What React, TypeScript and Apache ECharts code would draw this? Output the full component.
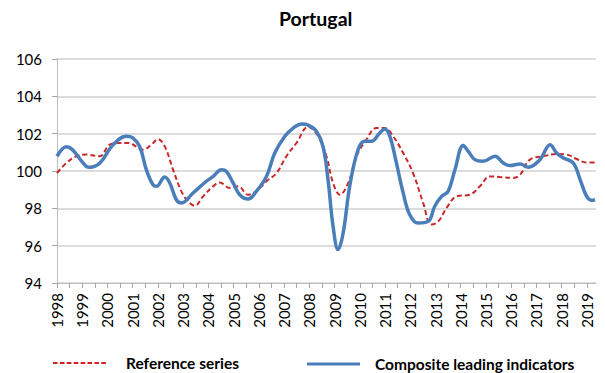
import React, { useEffect, useRef } from "react";
import * as echarts from "echarts";

const title = "Portugal";
const yTicks = { min: 94, max: 106, interval: 2 };

const cliYears = [1998.0, 1998.37, 1999.16, 1999.3, 1999.7, 2000.22, 2000.75, 2001.0, 2001.28, 2001.54, 2001.8, 2001.94, 2002.27, 2002.47, 2002.73, 2002.93, 2003.39, 2003.92, 2004.19, 2004.52, 2004.71, 2004.98, 2005.24, 2005.57, 2005.9, 2006.3, 2006.63, 2007.03, 2007.36, 2007.7, 2007.95, 2008.28, 2008.54, 2008.74, 2008.94, 2009.14, 2009.34, 2009.6, 2009.93, 2010.2, 2010.46, 2010.79, 2010.99, 2011.19, 2011.45, 2011.72, 2011.98, 2012.31, 2012.71, 2012.97, 2013.24, 2013.5, 2013.77, 2014.1, 2014.3, 2014.56, 2014.89, 2015.36, 2015.69, 2015.95, 2016.35, 2016.68, 2017.14, 2017.54, 2017.8, 2018.07, 2018.46, 2018.73, 2018.99, 2019.19, 2019.32];
const cliValues = [100.79, 101.3, 100.25, 100.2, 100.43, 101.4, 101.86, 101.77, 101.3, 100.07, 99.27, 99.18, 99.68, 99.36, 98.46, 98.29, 98.82, 99.45, 99.71, 100.07, 99.98, 99.36, 98.73, 98.5, 98.91, 99.71, 100.96, 101.86, 102.3, 102.52, 102.46, 102.13, 101.32, 99.54, 97.04, 95.79, 96.68, 99.18, 101.14, 101.59, 101.59, 102.04, 102.25, 101.86, 100.43, 98.82, 97.66, 97.21, 97.3, 98.11, 98.64, 98.91, 100.07, 101.36, 101.05, 100.61, 100.52, 100.79, 100.43, 100.29, 100.38, 100.2, 100.61, 101.41, 100.96, 100.7, 100.43, 99.54, 98.64, 98.43, 98.46];

const refYears = [1998.0, 1998.37, 1998.77, 1999.16, 1999.69, 2000.09, 2000.48, 2000.82, 2001.41, 2001.74, 2002.0, 2002.27, 2002.6, 2002.93, 2003.19, 2003.46, 2003.79, 2004.19, 2004.45, 2004.85, 2005.18, 2005.57, 2005.97, 2006.3, 2006.7, 2007.09, 2007.49, 2007.95, 2008.35, 2008.68, 2008.94, 2009.21, 2009.54, 2009.87, 2010.26, 2010.66, 2010.99, 2011.32, 2011.72, 2012.11, 2012.51, 2012.84, 2013.11, 2013.44, 2013.83, 2014.36, 2014.76, 2015.16, 2015.55, 2016.08, 2016.35, 2016.74, 2017.27, 2017.8, 2018.2, 2018.59, 2018.99, 2019.32];
const refValues = [99.89, 100.43, 100.79, 100.88, 100.79, 101.41, 101.5, 101.5, 101.14, 101.41, 101.71, 101.32, 100.07, 98.91, 98.38, 98.14, 98.64, 99.18, 99.39, 99.09, 99.18, 98.73, 99.0, 99.45, 99.89, 100.79, 101.5, 102.36, 101.86, 100.79, 99.36, 98.73, 99.36, 100.79, 101.68, 102.3, 102.3, 101.86, 100.96, 99.89, 98.29, 97.13, 97.3, 98.02, 98.64, 98.73, 99.18, 99.71, 99.68, 99.63, 99.8, 100.61, 100.79, 100.91, 100.88, 100.64, 100.46, 100.46];

const seriesNames = ["Reference series", "Composite leading indicators"];
const xRange = { min: 1998, max: 2019.36 };

const FONT = "Lato, 'Open Sans', sans-serif";

const dashIcon =
  "path://" +
  [0, 1, 2, 3, 4, 5, 6, 7].map((i) => `M${(i * 6.9).toFixed(1)},0h4.6v2h-4.6z`).join("");
const solidIcon = "path://M0,0h53v3h-53z";

export default function App() {
  const ref = useRef<HTMLDivElement>(null);
  useEffect(() => {
    if (!ref.current) return;
    const chart = echarts.init(ref.current, null, { renderer: "svg" });
    const zip = (xs: number[], ys: number[]) => xs.map((x, i) => [x, ys[i]]);
    const legendText = { fontFamily: FONT, fontSize: 15.5, fontWeight: "bold", color: "#000" };
    chart.setOption({
      animation: false,
      backgroundColor: "#ffffff",
      title: {
        text: title,
        left: 274,
        top: 3,
        textStyle: { fontFamily: FONT, fontSize: 19.5, fontWeight: "bold", color: "#000" },
      },
      grid: { left: 57, right: 9, top: 59, bottom: 90, containLabel: false },
      legend: [
        {
          data: [{ name: seriesNames[0], icon: dashIcon }],
          left: 48,
          top: 350,
          itemWidth: 53,
          itemHeight: 2,
          itemStyle: { color: "#d42020", borderWidth: 0 },
          textStyle: { ...legendText, padding: [0, 0, 0, 15] },
        },
        {
          data: [{ name: seriesNames[1], icon: solidIcon }],
          left: 302,
          top: 351,
          itemWidth: 53,
          itemHeight: 3,
          itemStyle: { color: "#4a7ebb", borderWidth: 0 },
          textStyle: { ...legendText, padding: [0, 0, 0, 10] },
        },
      ],
      xAxis: {
        type: "value",
        min: xRange.min,
        max: xRange.max,
        interval: 0.5,
        axisLine: { show: true, lineStyle: { color: "#bfbfbf", width: 1 } },
        axisTick: { show: true, length: 5, lineStyle: { color: "#a6a6a6" } },
        splitLine: { show: false },
        axisLabel: {
          rotate: 90,
          margin: 10,
          fontFamily: FONT,
          fontSize: 15,
          color: "#000",
          formatter: (v: number) => (Math.abs(v - Math.round(v)) < 1e-6 ? String(Math.round(v)) : ""),
          showMaxLabel: false,
        },
      },
      yAxis: {
        type: "value",
        min: yTicks.min,
        max: yTicks.max,
        interval: yTicks.interval,
        axisLine: { show: true, lineStyle: { color: "#bfbfbf", width: 1 } },
        axisTick: { show: true, length: 5, lineStyle: { color: "#a6a6a6" } },
        splitLine: { show: true, lineStyle: { color: "#d0d0d0", width: 1.5 } },
        axisLabel: { margin: 15, fontFamily: FONT, fontSize: 15, color: "#000" },
      },
      series: [
        {
          name: seriesNames[0],
          type: "line",
          data: zip(refYears, refValues),
          smooth: 0.4,
          showSymbol: false,
          symbol: "none",
          lineStyle: { color: "#c8282a", width: 2, type: [5, 3] },
          itemStyle: { color: "#d42020" },
          z: 2,
        },
        {
          name: seriesNames[1],
          type: "line",
          data: zip(cliYears, cliValues),
          smooth: 0.4,
          showSymbol: false,
          symbol: "none",
          lineStyle: { color: "#4a7ebb", width: 3.5 },
          itemStyle: { color: "#4a7ebb" },
          z: 3,
        },
      ],
    });
    return () => chart.dispose();
  }, []);
  return <div ref={ref} style={{ width: 605, height: 373, position: "absolute", left: 0, top: 0 }} />;
}
